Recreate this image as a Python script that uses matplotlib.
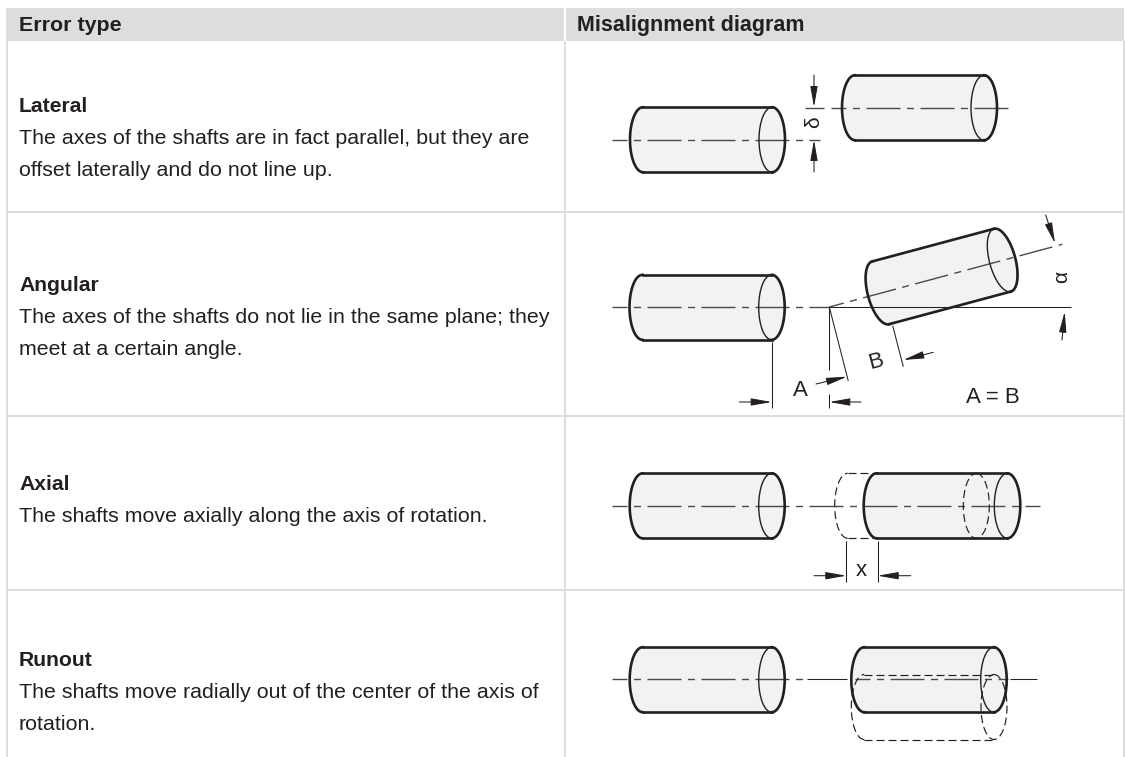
import numpy as np
import matplotlib
matplotlib.use("Agg")
import matplotlib.pyplot as plt
from matplotlib.patches import Ellipse, Rectangle, Polygon

plt.rcParams['font.family'] = ['Liberation Sans', 'DejaVu Sans']
plt.rcParams['lines.scale_dashes'] = False

headers = ["Error type", "Misalignment diagram"]
titles = ["Lateral", "Angular", "Axial", "Runout"]
bodies = [
    ["The axes of the shafts are in fact parallel, but they are", "offset laterally and do not line up."],
    ["The axes of the shafts do not lie in the same plane; they", "meet at a certain angle."],
    ["The shafts move axially along the axis of rotation."],
    ["The shafts move radially out of the center of the axis of", "rotation."],
]
title_base = [112.5, 291, 490, 666]
row_lines = [211.5, 415.5, 590]

DARK = '#231f20'
CL = '#4a4a4a'
FILL = '#f1f2f4'
GRID = '#dcddde'
px = 72 / 100
CENTER = (19 * px, (34 * px, 6.5 * px, 7 * px, 6.5 * px))
DASHED = (0, (8 * px, 4 * px))

fig = plt.figure(figsize=(11.26, 7.57), dpi=100)
ax = fig.add_axes([0, 0, 1, 1])
ax.set_xlim(0, 1126)
ax.set_ylim(757, 0)
ax.axis('off')


def cylinder(xl, xr, yc, angle=0, ghost=False, rx=13, ry=32.5):
    # xl, xr are the end centres along the axis, angle in degrees (screen up)
    a = np.deg2rad(angle)
    ux, uy = np.cos(a), -np.sin(a)
    nx, ny = np.sin(a), np.cos(a)
    x0, y0 = xl, yc
    length = xr - xl
    x1, y1 = x0 + ux * length, y0 + uy * length
    ls = DASHED if ghost else '-'
    lw = 0.85 if ghost else 1.9
    t = np.linspace(np.pi / 2, 3 * np.pi / 2, 60)
    lx = x0 + rx * np.cos(t) * ux + ry * np.sin(t) * nx
    ly = y0 + rx * np.cos(t) * uy + ry * np.sin(t) * ny
    t2 = np.linspace(-np.pi / 2, np.pi / 2, 60)
    rx_ = x1 + rx * np.cos(t2) * ux + ry * np.sin(t2) * nx
    ry_ = y1 + rx * np.cos(t2) * uy + ry * np.sin(t2) * ny
    if not ghost:
        ax.add_patch(Polygon(np.column_stack([np.r_[lx, rx_], np.r_[ly, ry_]]), closed=True,
                             fc=FILL, ec='none', zorder=1))
    ax.plot(lx, ly, color=DARK, lw=lw, ls=ls, zorder=4)
    ax.plot([x0 + nx * ry, x1 + nx * ry], [y0 + ny * ry, y1 + ny * ry], color=DARK, lw=lw, ls=ls, zorder=4)
    ax.plot([x0 - nx * ry, x1 - nx * ry], [y0 - ny * ry, y1 - ny * ry], color=DARK, lw=lw, ls=ls, zorder=4)
    ax.add_patch(Ellipse((x1, y1), 2 * rx, 2 * ry, angle=-angle, fc='none', ec=DARK,
                         lw=0.85 if ghost else 1.0, ls=ls, zorder=4))
    if not ghost:
        ax.plot(rx_, ry_, color=DARK, lw=lw, zorder=4)


def line(x0, y0, x1, y1, ls='-', lw=0.75, color=DARK):
    ax.plot([x0, x1], [y0, y1], color=color, lw=lw, ls=ls, zorder=3, solid_capstyle='butt', dash_capstyle='butt')


def center(x0, y0, x1, y1):
    line(x0, y0, x1, y1, ls=CENTER, lw=1.0, color=CL)


def arrow(x0, y0, x1, y1):
    ax.annotate('', xy=(x1, y1), xytext=(x0, y0),
                arrowprops=dict(arrowstyle='-|>,head_length=0.9,head_width=0.16', color=DARK, lw=0.75,
                                shrinkA=0, shrinkB=0, mutation_scale=14), zorder=5)


# table
ax.add_patch(Rectangle((6, 8), 558, 33, fc=GRID, ec='none'))
ax.add_patch(Rectangle((566, 8), 558, 33, fc=GRID, ec='none'))
for x in [7, 565, 1124]:
    line(x, 41, x, 757, lw=1.4, color=GRID)
for y in row_lines:
    line(6, y, 1125, y, lw=1.4, color=GRID)

ax.text(19, 31, headers[0], fontsize=15.4, fontweight='bold', color=DARK, va='baseline')
ax.text(577, 31, headers[1], fontsize=15.5, fontweight='bold', color=DARK, va='baseline')
for title, lines_, y in zip(titles, bodies, title_base):
    ax.text(19, y, title, fontsize=15.2, fontweight='bold', color=DARK, va='baseline')
    for i, s in enumerate(lines_):
        ax.text(19, y + 32 * (i + 1), s, fontsize=15.4, color=DARK, va='baseline')

# lateral
cylinder(643, 772, 139.7)
cylinder(855, 984, 107.7)
center(612, 139.7, 820, 139.7)
line(805, 107.7, 824, 107.7, lw=1.0, color=CL)
center(831, 107.7, 1013, 107.7)
arrow(814, 75, 814, 107)
arrow(814, 172, 814, 140)
ax.text(814, 122, "δ", rotation=90, fontsize=15, color=DARK, ha='center', va='center')

# angular
cylinder(642.5, 771.7, 307.3)
cylinder(880.7, 1006.7, 292.8, angle=15)
center(612, 307, 829.3, 307)
line(829.3, 307, 1070.7, 307)
center(829.3, 307, 1062.3, 244.3)
line(771.7, 341.7, 771.7, 407.7)
arrow(739.3, 402, 771.7, 402)
line(829.3, 307, 829.3, 370)
line(829.3, 394, 829.3, 408)
arrow(861, 402, 829.3, 402)
line(829.3, 307, 848.3, 381)
arrow(816, 384, 847, 376.7)
line(892.7, 325.7, 903.3, 366.7)
arrow(933.3, 352.3, 903.3, 360)
arrow(1045.7, 215, 1055, 243.3)
arrow(1062, 340, 1064.7, 311.7)
ax.text(1061.7, 276.7, "α", rotation=90, fontsize=15, color=DARK, ha='center', va='center')
ax.text(875.7, 361.7, "B", rotation=15, fontsize=16, color=DARK, ha='center', va='center')
ax.text(800.7, 391, "A", fontsize=16, color=DARK, ha='center', va='center')
ax.text(992.7, 397.7, "A = B", fontsize=16, color=DARK, ha='center', va='center')

# axial
cylinder(642.7, 771.7, 505.8)
cylinder(876.7, 1007.3, 505.8)
cylinder(847.7, 976.3, 505.8, ghost=True)
center(612, 505.7, 1040, 505.7)
line(846.3, 540.7, 846.3, 581.7)
line(877.7, 540.7, 877.7, 581.7)
arrow(814, 575.7, 846.3, 575.7)
arrow(910.7, 575.7, 877.7, 575.7)
ax.text(861.7, 570.7, "x", fontsize=16, color=DARK, ha='center', va='center')

# runout
cylinder(642.7, 771.7, 679.7)
cylinder(864.3, 993.7, 679.7)
cylinder(864.3, 994, 707, ghost=True)
center(612, 679.3, 806, 679.3)
line(807, 679.3, 847, 679.3, color='#222222')
center(855, 679.3, 1008, 679.3)
line(1010, 679.3, 1037, 679.3, color='#222222')

fig.savefig('out.png', dpi=100)
